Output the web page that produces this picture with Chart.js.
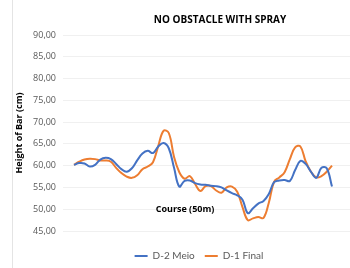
<!DOCTYPE html>
<html>
<head>
<meta charset="utf-8">
<script src="https://cdn.jsdelivr.net/npm/chart.js@4/dist/chart.umd.min.js"></script>
<style>
  html, body { margin: 0; padding: 0; background: #fff; }
  #wrap { width: 350px; height: 268px; }
</style>
</head>
<body>
<div id="wrap"><canvas id="line-chart" width="350" height="268"></canvas></div>
<script>
/* chart data */
var chartTitle = "NO OBSTACLE WITH SPRAY";
var yTitle = "Height of Bar (cm)";
var xTitle = "Course (50m)";

var course = [1,2,3,4,5,6,7,8,9,10,11,12,13,14,15,16,17,18,19,20,
  21,22,23,24,25,26,27,28,29,30,31,32,33,34,35,36,37,38,39,40,
  41,42,43,44,45,46,47,48,49,50];

var d2Meio = [60.2,60.6,60.5,59.8,60.2,61.4,61.8,61.5,60.4,59.2,
  58.6,59.4,61.2,62.8,63.4,62.9,64.4,65.2,64.0,59.5,
  55.2,56.5,56.6,56.0,55.7,55.6,55.4,55.3,55.0,54.3,
  53.7,53.2,52.2,49.1,50.2,51.3,51.9,53.5,56.2,56.6,
  56.7,56.5,59.0,61.1,60.4,58.6,57.2,59.5,59.4,55.2];

var d1Final = [60.2,60.9,61.4,61.6,61.5,61.2,61.2,60.9,59.5,58.3,
  57.5,57.2,57.8,59.2,59.8,60.8,64.5,68.0,67.5,62.0,
  58.5,57.0,57.6,55.8,54.2,55.3,55.3,54.3,53.8,55.0,
  55.2,54.0,50.5,47.5,47.9,48.2,48.0,51.5,56.3,57.3,
  58.5,61.5,64.2,64.4,61.0,58.6,57.3,57.6,58.6,60.0];

var yMin = 45, yMax = 90, yStep = 5;

var textFont = "'Open Sans', 'Liberation Sans', sans-serif";

// title, axis titles and frame line (placed like the Excel original)
var extraText = {
  id: 'extraText',
  afterDraw: function(chart) {
    var ctx = chart.ctx;
    var area = chart.chartArea;
    ctx.save();
    ctx.strokeStyle = '#e4e4e4';
    ctx.lineWidth = 1;
    ctx.beginPath();
    ctx.moveTo(12.5, 0);
    ctx.lineTo(12.5, 268);
    ctx.stroke();

    ctx.fillStyle = '#000';
    ctx.textAlign = 'center';
    ctx.textBaseline = 'middle';
    ctx.font = "bold 10px " + textFont;
    ctx.fillText(chartTitle, 220, 20);

    ctx.font = "bold 9px " + textFont;
    ctx.fillText(xTitle, 185, 209);

    ctx.translate(19, (area.top + area.bottom) / 2);
    ctx.rotate(-Math.PI / 2);
    ctx.fillText(yTitle, 0, 0);
    ctx.restore();
  }
};

new Chart(document.getElementById("line-chart"), {
  type: 'line',
  data: {
    labels: course,
    datasets: [{
      label: "D-2 Meio",
      data: d2Meio,
      borderColor: "#4472c4",
      backgroundColor: "#4472c4",
      borderWidth: 2,
      pointRadius: 0,
      tension: 0.4,
      fill: false
    }, {
      label: "D-1 Final",
      data: d1Final,
      borderColor: "#ed7d31",
      backgroundColor: "#ed7d31",
      borderWidth: 2,
      pointRadius: 0,
      tension: 0.4,
      fill: false
    }]
  },
  plugins: [extraText],
  options: {
    responsive: false,
    animation: false,
    layout: { padding: { top: 35, left: 28, right: -20, bottom: -3 } },
    plugins: {
      title: { display: false },
      tooltip: { enabled: false },
      legend: {
        position: 'bottom',
        labels: {
          color: '#595959',
          font: { size: 10, family: "Lato, 'Open Sans', sans-serif" },
          boxWidth: 13,
          boxHeight: 2,
          padding: 10,
          generateLabels: function(chart) {
            var items = Chart.defaults.plugins.legend.labels.generateLabels(chart);
            items.forEach(function(it) { it.lineWidth = 0; });
            return items;
          }
        }
      }
    },
    scales: {
      x: {
        type: 'linear',
        min: -1.09,
        max: 53.42,
        ticks: { display: false },
        grid: { display: false },
        border: { display: false },
        afterFit: function(scale) { scale.height = 10; }
      },
      y: {
        min: yMin,
        max: yMax,
        ticks: {
          stepSize: yStep,
          padding: 7,
          color: '#595959',
          font: { size: 9, family: textFont },
          callback: function(v) { return v.toFixed(2).replace('.', ','); }
        },
        grid: { color: '#f0f0f0', drawTicks: false },
        border: { display: false },
        afterFit: function(scale) { scale.width = 35; }
      }
    }
  }
});
</script>
</body>
</html>
